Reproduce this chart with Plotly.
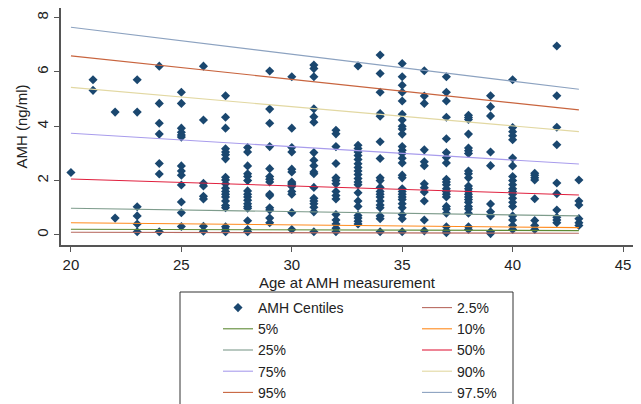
import plotly.graph_objects as go

# ---- data ----
point_ages = [20, 21, 22, 23, 24, 25, 26, 27, 28, 29, 30, 31,
              32, 33, 34, 35, 36, 37, 38, 39, 40, 41, 42, 43]
amh_by_age = [
    [2.30],
    [5.71, 5.32],
    [4.52, 0.62],
    [5.71, 4.52, 1.04, 0.70, 0.40, 0.12],
    [6.21, 4.84, 4.11, 3.71, 2.63, 2.24, 0.12],
    [5.25, 4.84, 3.93, 3.78, 3.68, 3.60, 2.54, 2.35, 2.20, 1.84, 1.21, 0.82, 0.31],
    [6.21, 4.23, 1.90, 1.80, 1.42, 1.32, 0.32, 0.14],
    [5.12, 4.33, 3.93, 3.17, 3.05, 2.95, 2.80, 2.12, 2.02, 1.88, 1.72, 1.60, 1.50,
     1.40, 1.25, 1.08, 1.00, 0.30, 0.20, 0.12],
    [3.22, 3.05, 2.54, 2.25, 2.15, 2.00, 1.62, 1.50, 1.40, 1.28, 1.15, 1.05, 0.98,
     0.52, 0.20, 0.12],
    [6.03, 4.63, 4.11, 3.25, 2.44, 2.15, 2.05, 1.95, 1.50, 1.44, 1.00, 0.92, 0.62, 0.45],
    [5.82, 3.93, 3.22, 3.05, 2.42, 2.32, 1.95, 1.90, 1.85, 1.78, 1.60, 1.50, 0.82, 0.20],
    [6.25, 6.12, 5.82, 4.64, 4.35, 4.15, 3.03, 2.75, 2.55, 2.32, 2.25, 1.75, 1.35,
     1.25, 1.15, 1.02, 0.85, 0.12],
    [3.85, 3.72, 3.25, 2.63, 2.10, 2.00, 1.88, 1.60, 1.45, 1.32, 0.75, 0.55, 0.40,
     0.25, 0.12],
    [6.22, 3.30, 3.18, 3.05, 2.92, 2.78, 2.62, 2.48, 2.35, 2.22, 2.08, 1.95, 1.85,
     1.55, 1.25, 1.05, 0.72, 0.62, 0.50, 0.40],
    [6.62, 5.94, 5.25, 4.47, 4.37, 3.43, 2.81, 2.10, 2.00, 1.75, 1.60, 1.50, 1.40,
     1.25, 1.10, 1.00, 0.70, 0.60, 0.12],
    [6.31, 5.82, 5.51, 5.25, 4.93, 4.44, 4.23, 4.00, 3.90, 3.71, 3.25, 3.12, 3.00,
     2.82, 2.65, 2.20, 2.10, 1.70, 1.60, 1.50, 1.40, 1.30, 1.15, 1.00, 0.75, 0.60, 0.12],
    [6.04, 5.11, 4.84, 3.13, 2.69, 2.55, 1.88, 1.74, 1.58, 1.25, 0.55, 0.15],
    [5.82, 5.25, 4.93, 4.33, 3.54, 3.03, 2.85, 2.65, 2.05, 1.95, 1.85, 1.70, 1.60,
     1.50, 1.40, 1.05, 0.95, 0.80, 0.30, 0.15, 0.08],
    [4.40, 4.32, 4.25, 3.71, 3.20, 3.10, 3.00, 2.35, 2.25, 2.10, 1.80, 1.70, 1.60,
     1.50, 1.40, 1.30, 1.20, 1.05, 0.95, 0.80, 0.30, 0.20],
    [5.12, 4.72, 4.38, 3.05, 2.55, 1.14, 0.85, 0.70, 0.12, 0.05],
    [5.71, 3.95, 3.80, 3.65, 3.50, 2.83, 2.54, 2.15, 2.00, 1.85, 1.70, 1.60, 1.50,
     1.35, 1.20, 1.05, 0.70, 0.55, 0.35, 0.20],
    [2.27, 2.20, 2.10, 2.02, 1.33, 0.53, 0.35, 0.20],
    [6.95, 5.12, 3.96, 3.32, 1.91, 1.52, 0.92, 0.65, 0.55, 0.45],
    [2.02, 1.25, 1.10, 0.60, 0.45, 0.35],
]

centile_labels = ["2.5%", "5%", "10%", "25%", "50%", "75%", "90%", "95%", "97.5%"]
centile_ages = [20, 43]
centile_at_20 = [0.10, 0.21, 0.45, 0.98, 2.06, 3.74, 5.43, 6.59, 7.64]
centile_at_43 = [0.06, 0.16, 0.27, 0.70, 1.47, 2.61, 3.80, 4.60, 5.36]

x_ticks = [20, 25, 30, 35, 40, 45]
y_ticks = [0, 2, 4, 6, 8]

# ---- style ----
centile_colors = ["#b86a60", "#5e8a34", "#ff8a1c", "#7e9c8c", "#e0203e",
                  "#a89cec", "#e2d8a2", "#c8643e", "#8ca2c0"]
centile_legend = ["legend2", "legend", "legend2", "legend", "legend2",
                  "legend", "legend2", "legend", "legend2"]
point_color = "#1a476f"
FONT = "Liberation Sans, Arial, sans-serif"
TXT = "#222222"

xs, ys = [], []
for a, vals in zip(point_ages, amh_by_age):
    for v in vals:
        xs.append(a)
        ys.append(v)

fig = go.Figure()
fig.add_trace(go.Scatter(
    x=xs, y=ys, mode="markers", name="AMH Centiles", legend="legend",
    marker=dict(symbol="diamond", size=7, color=point_color,
                line=dict(width=0)),
))
for lab, c0, c1, col, lg in zip(centile_labels, centile_at_20, centile_at_43,
                                centile_colors, centile_legend):
    fig.add_trace(go.Scatter(
        x=centile_ages, y=[c0, c1], mode="lines", name=lab, legend=lg,
        line=dict(color=col, width=1.1),
    ))

# figure sits inside the page's default 8px body margin
W, H = 633, 396
L, R, T, B = 53, 8, 0, 159
pw, ph = W - L - R, H - T - B


def px_x(p):
    return (p - L) / pw


def px_y(p):
    return (H - B - p) / ph


legend_common = dict(
    orientation="v", yanchor="top", xanchor="left",
    bgcolor="rgba(0,0,0,0)", borderwidth=0,
    font=dict(family=FONT, size=14, color=TXT),
    tracegroupgap=0, itemsizing="trace",
)

fig.update_layout(
    width=W, height=H,
    margin=dict(l=L, r=R, t=T, b=B, autoexpand=False),
    paper_bgcolor="white", plot_bgcolor="white",
    font=dict(family=FONT, size=15, color=TXT),
    showlegend=True,
    legend=dict(x=px_x(210), y=px_y(284), **legend_common),
    legend2=dict(x=px_x(409), y=px_y(284), **legend_common),
    shapes=[dict(type="rect", xref="paper", yref="paper",
                 x0=px_x(172), x1=px_x(505), y0=px_y(284), y1=px_y(420),
                 line=dict(color="#333333", width=1), fillcolor="rgba(0,0,0,0)",
                 layer="above")],
    annotations=[dict(text="Age at AMH measurement", xref="paper", yref="paper",
                      x=0.5, y=px_y(274), xanchor="center", yanchor="middle",
                      showarrow=False, font=dict(family=FONT, size=15, color=TXT))],
    xaxis=dict(
        range=[19.55, 45.45], tickvals=x_ticks,
        showgrid=False, zeroline=False,
        showline=True, linecolor="#555555", linewidth=1.5,
        ticks="outside", ticklen=5, tickcolor="#555555", tickwidth=1.3,
        tickfont=dict(size=15),
    ),
    yaxis=dict(
        range=[-0.37, 8.35], tickvals=y_ticks,
        showgrid=False, zeroline=False,
        showline=True, linecolor="#555555", linewidth=1.5,
        ticks="outside", ticklen=5, tickcolor="#555555", tickwidth=1.3,
        tickangle=-90,
        title=dict(text="AMH (ng/ml)", standoff=3, font=dict(size=15)),
        tickfont=dict(size=15),
    ),
)

fig.write_html("out.html")
